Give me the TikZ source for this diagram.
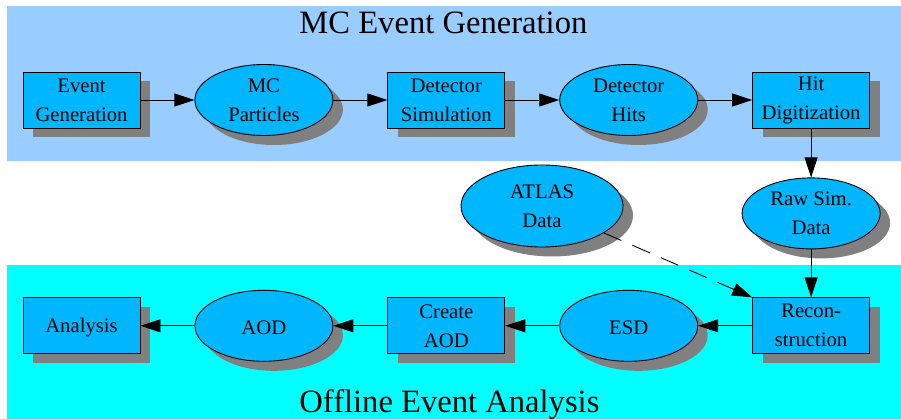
\documentclass[tikz,border=0pt]{standalone}
\usepackage{fontspec}
\setmainfont{Liberation Serif}
\usetikzlibrary{shapes.geometric,positioning,shadows,arrows.meta}
\definecolor{mcband}{RGB}{153,204,255}
\definecolor{offband}{RGB}{0,255,255}
\definecolor{itemfill}{RGB}{0,183,255}
\newcommand{\blockfont}{\rmfamily\fontsize{20.7}{29}\selectfont}
\newcommand{\bandfont}{\rmfamily\fontsize{32.6}{36}\selectfont}

\begin{document}
\begin{tikzpicture}[x=1pt, y=-1pt, line width=0.9pt,
    dropped/.style={drop shadow={shadow xshift=10pt, shadow yshift=-9.5pt, fill=gray, opacity=1}},
    block/.style={draw, fill=itemfill, dropped, align=center, inner sep=0pt,
        minimum width=117pt, minimum height=56pt, font=\blockfont,
        execute at begin node={\rule{0pt}{17.5pt}}},
    datum/.style={block, ellipse, minimum width=138pt, minimum height=71pt},
    arr/.style={-{Triangle[length=20pt, width=13pt]}},
    node distance=54pt]
    \useasboundingbox (0,0) rectangle (901,419);
    % the two bands
    \fill[mcband]  (7,6) rectangle (901,161);
    \fill[offband] (7,265) rectangle (901,419);
    \node[anchor=base west, inner sep=0pt, font=\bandfont] (mctitle)  at (299,34)  {MC Event Generation};
    \node[anchor=base west, inner sep=0pt, font=\bandfont] (offtitle) at (299,412) {Offline Event Analysis};
    % MC chain
    \node [block] (evgen) at (81.5,100) {Event\\Generation};
    \node [datum] (mcpart)  [right=of evgen]  {MC\\Particles};
    \node [block] (detsim)  [right=of mcpart] {Detector\\Simulation};
    \node [datum] (dethits) [right=of detsim] {Detector\\Hits};
    \node [block] (hitdig)  [right=of dethits] {Hit\\Digitization};
    \node [datum] (rawsim)  [below=49pt of hitdig] {Raw Sim.\\Data};
    \node [datum, minimum width=162pt, minimum height=82pt] (atlas) at (542,206) {ATLAS\\Data};
    % offline chain
    \node [block] (recon)   [below=48pt of rawsim] {Recon-\\struction};
    \node [datum] (esd)     [left=of recon]     {ESD};
    \node [block] (mkaod)   [left=of esd]       {Create\\AOD};
    \node [datum] (aod)     [left=of mkaod]     {AOD};
    \node [block] (ana)     [left=of aod]       {Analysis};
    \draw[arr] (evgen) edge (mcpart) (mcpart) edge (detsim) (detsim) edge (dethits)
        (dethits) edge (hitdig) (hitdig) edge (rawsim) (rawsim) edge (recon);
    \draw[arr] (recon) edge (esd) (esd) edge (mkaod) (mkaod) edge (aod) (aod) edge (ana);
    \draw[arr, dash pattern=on 19pt off 12pt] (atlas) -- (recon.north west);
\end{tikzpicture}
\end{document}
